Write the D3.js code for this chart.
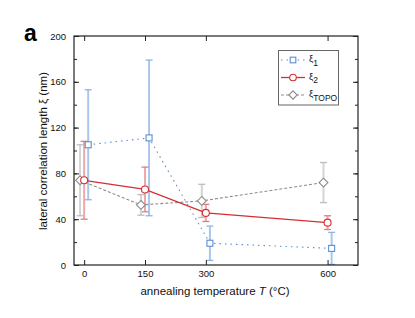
<!DOCTYPE html>
<html>
<head>
<meta charset="utf-8">
<script src="https://cdn.jsdelivr.net/npm/d3@7"></script>
<style>
  body { margin: 0; background: #fff; }
  svg { display: block; font-family: Arial, "Liberation Sans", sans-serif; }
</style>
</head>
<body>
<svg id="chart" width="415" height="318"></svg>
<script>
// temperatures (°C) and values
const temps = [0, 150, 300, 600];
const xi1 = [105, 111, 19, 14.5];
const xi1Err = [48, 68, 15, 14];
const xi2 = [74, 66, 45.5, 37];
const xi2Err = [34, 19.5, 7.5, 6];
const xiTopo = [74, 52.5, 56, 72];
const xiTopoErr = [31, 9, 14.5, 17.5];
const xTicks = [0, 150, 300, 600];
const yTicks = [0, 40, 80, 120, 160, 200];

const colors = {
  xi1: "#5b8fd4", xi1Bar: "#a9c6ec", xi1Cap: "#8fb4e4",
  xi2: "#d42f33", xi2Bar: "#eea7aa", xi2Cap: "#e27b7e",
  topo: "#8c8c8c", topoBar: "#d4d4d4", topoCap: "#bdbdbd"
};

const series = [
  { name: "1", vals: xi1, err: xi1Err, shift: 10, color: colors.xi1, bar: colors.xi1Bar, cap: colors.xi1Cap, dash: "1.5,4", marker: "square" },
  { name: "2", vals: xi2, err: xi2Err, shift: 0, color: colors.xi2, bar: colors.xi2Bar, cap: colors.xi2Cap, dash: null, marker: "circle" },
  { name: "TOPO", vals: xiTopo, err: xiTopoErr, shift: -10, color: colors.topo, bar: colors.topoBar, cap: colors.topoCap, dash: "3,2", marker: "diamond" }
];

const svg = d3.select("#chart");
const m = { left: 74, right: 358, top: 36, bottom: 265 };

const x = d3.scaleLinear().domain([-25, 675]).range([m.left, m.right]);
const y = d3.scaleLinear().domain([0, 200]).range([m.bottom, m.top]);

const plot = svg.append("g");
plot.append("clipPath").attr("id", "clip")
  .append("rect").attr("x", m.left).attr("y", m.top)
  .attr("width", m.right - m.left).attr("height", m.bottom - m.top);

// frame and axes
const axisColor = "#222";
svg.append("rect")
  .attr("x", m.left).attr("y", m.top)
  .attr("width", m.right - m.left).attr("height", m.bottom - m.top)
  .attr("fill", "none").attr("stroke", axisColor).attr("stroke-width", 1.2);

const minorY = d3.range(0, 201, 20);
svg.append("g").attr("transform", `translate(${m.left},0)`)
  .call(d3.axisLeft(y).tickValues(minorY).tickSize(-3).tickFormat(""))
  .call(g => g.select(".domain").remove())
  .call(g => g.selectAll("line").attr("stroke", axisColor));
svg.append("g").attr("transform", `translate(${m.left},0)`)
  .call(d3.axisLeft(y).tickValues(yTicks).tickSize(-5).tickPadding(8))
  .call(g => g.select(".domain").remove())
  .call(g => g.selectAll("line").attr("stroke", axisColor))
  .call(g => g.selectAll("text").attr("font-size", 9.5).attr("fill", "#111").attr("font-family", "Arial, Liberation Sans"));
svg.append("g").attr("transform", `translate(${m.right},0)`)
  .call(d3.axisRight(y).tickValues(minorY).tickSize(-3).tickFormat(""))
  .call(g => g.select(".domain").remove())
  .call(g => g.selectAll("line").attr("stroke", axisColor));
svg.append("g").attr("transform", `translate(${m.right},0)`)
  .call(d3.axisRight(y).tickValues(yTicks).tickSize(-5).tickFormat(""))
  .call(g => g.select(".domain").remove())
  .call(g => g.selectAll("line").attr("stroke", axisColor));
svg.append("g").attr("transform", `translate(0,${m.bottom})`)
  .call(d3.axisBottom(x).tickValues(xTicks).tickSize(-5).tickPadding(5))
  .call(g => g.select(".domain").remove())
  .call(g => g.selectAll("line").attr("stroke", axisColor))
  .call(g => g.selectAll("text").attr("font-size", 9.5).attr("fill", "#111").attr("font-family", "Arial, Liberation Sans"));
svg.append("g").attr("transform", `translate(0,${m.top})`)
  .call(d3.axisTop(x).tickValues(xTicks).tickSize(-5).tickFormat(""))
  .call(g => g.select(".domain").remove())
  .call(g => g.selectAll("line").attr("stroke", axisColor));

// error bars
const capW = 3.5;
const clipped = plot.append("g").attr("clip-path", "url(#clip)");
series.forEach(s => {
  const g = clipped.append("g");
  temps.forEach((t, i) => {
    const cx = x(t + s.shift);
    const y0 = y(s.vals[i] - s.err[i]);
    const y1 = y(s.vals[i] + s.err[i]);
    g.append("line").attr("x1", cx).attr("x2", cx).attr("y1", y0).attr("y2", y1)
      .attr("stroke", s.bar).attr("stroke-width", 2);
    [y0, y1].forEach(yy => g.append("line")
      .attr("x1", cx - capW).attr("x2", cx + capW).attr("y1", yy).attr("y2", yy)
      .attr("stroke", s.cap).attr("stroke-width", 1.3));
  });
});

// lines and markers
function drawMarker(g, type, cx, cy, color, size) {
  if (type === "square") {
    g.append("rect").attr("x", cx - size).attr("y", cy - size)
      .attr("width", size * 2).attr("height", size * 2)
      .attr("fill", "#fff").attr("stroke", color).attr("stroke-width", 1.1);
  } else if (type === "circle") {
    g.append("circle").attr("cx", cx).attr("cy", cy).attr("r", size + 0.5)
      .attr("fill", "#fff").attr("stroke", color).attr("stroke-width", 1.1);
  } else {
    const r = size + 1.4;
    g.append("path").attr("d", `M${cx},${cy - r}L${cx + r},${cy}L${cx},${cy + r}L${cx - r},${cy}Z`)
      .attr("fill", "#fff").attr("stroke", color).attr("stroke-width", 1.1);
  }
}

const line = d3.line();
[series[0], series[2], series[1]].forEach(s => {
  const pts = temps.map((t, i) => [x(t + s.shift), y(s.vals[i])]);
  plot.append("path").attr("d", line(pts))
    .attr("fill", "none").attr("stroke", s.color)
    .attr("stroke-width", s.dash ? 1.1 : 1.3)
    .attr("stroke-dasharray", s.dash);
  const mg = plot.append("g");
  pts.forEach(p => drawMarker(mg, s.marker, p[0], p[1], s.color, 3));
});

// legend
const leg = svg.append("g");
leg.append("rect").attr("x", 278.5).attr("y", 50.5).attr("width", 60).attr("height", 54.5)
  .attr("fill", "#fff").attr("stroke", "#666").attr("stroke-width", 1);
series.forEach((s, i) => {
  const ly = 60 + i * 17.5;
  leg.append("line").attr("x1", 281).attr("x2", 305).attr("y1", ly).attr("y2", ly)
    .attr("stroke", s.color).attr("stroke-width", s.dash ? 1.1 : 1.3)
    .attr("stroke-dasharray", s.dash);
  drawMarker(leg, s.marker, 293, ly, s.color, 2.8);
  const t = leg.append("text").attr("x", 309).attr("y", ly + 2)
    .attr("font-size", 9.5).attr("fill", "#111");
  t.append("tspan").text("ξ");
  t.append("tspan").attr("dy", 3.5).attr("font-size", 8.5).text(s.name);
});

// axis titles
svg.append("text")
  .attr("x", 215).attr("y", 295)
  .attr("text-anchor", "middle").attr("font-size", 11.5).attr("fill", "#111")
  .call(t => {
    t.append("tspan").text("annealing temperature ");
    t.append("tspan").attr("font-style", "italic").text("T");
    t.append("tspan").text(" (°C)");
  });
svg.append("text")
  .attr("transform", "translate(47,151) rotate(-90)")
  .attr("text-anchor", "middle").attr("font-size", 11.5).attr("fill", "#111")
  .text("lateral correlation length ξ (nm)");

svg.append("text").attr("x", 24).attr("y", 41)
  .attr("font-size", 23).attr("font-weight", "bold").attr("fill", "#000")
  .text("a");
</script>
</body>
</html>
